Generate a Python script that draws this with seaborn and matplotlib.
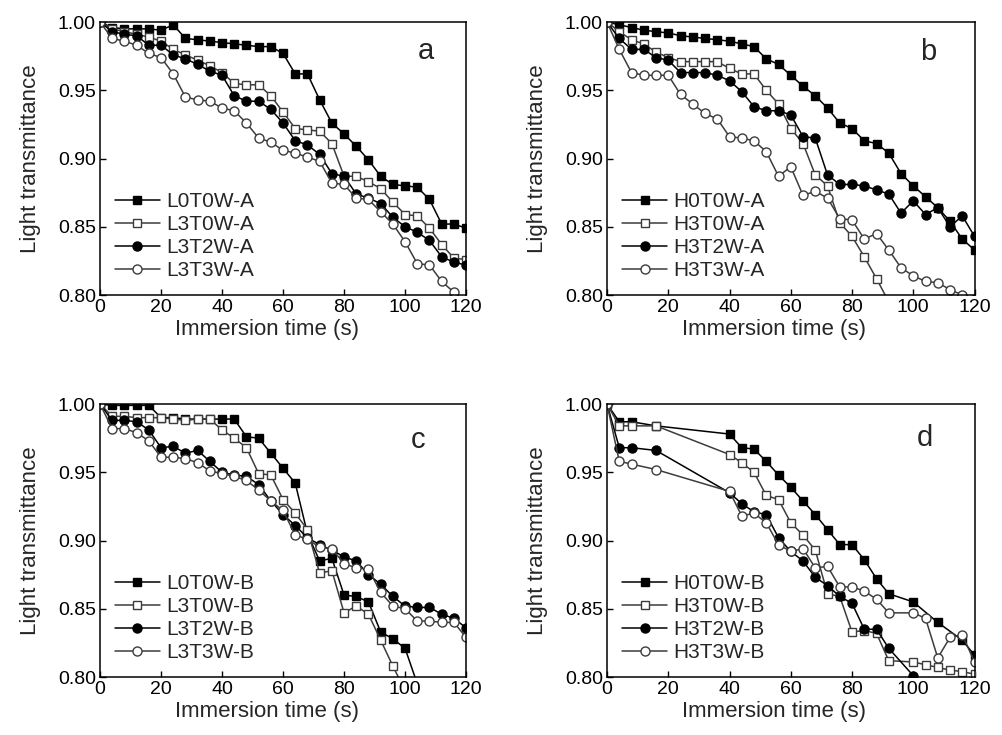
import matplotlib
matplotlib.use("Agg")
import matplotlib.pyplot as plt
import seaborn as sns
import pandas as pd

# ---------------- data ----------------
t_full = [0, 4, 8, 12, 16, 20, 24, 28, 32, 36, 40, 44, 48, 52, 56, 60,
          64, 68, 72, 76, 80, 84, 88, 92, 96, 100, 104, 108, 112, 116, 120]

# panel a
a_L0T0W = [1.000, .996, .995, .995, .995, .994, .998, .988, .987, .986, .985, .984, .983, .982, .982, .977,
           .962, .962, .943, .926, .918, .909, .899, .887, .881, .880, .879, .870, .852, .852, .849]
a_L3T0W = [1.000, .995, .993, .991, .989, .986, .980, .976, .972, .968, .963, .955, .954, .954, .946, .934,
           .922, .921, .920, .911, .887, .887, .883, .878, .868, .859, .858, .849, .837, .827, .826]
a_L3T2W = [1.000, .993, .991, .990, .983, .983, .976, .973, .969, .964, .961, .946, .942, .942, .936, .926,
           .913, .910, .903, .889, .887, .874, .871, .867, .857, .850, .846, .840, .828, .824, .822]
a_L3T3W = [1.000, .988, .986, .983, .977, .974, .962, .945, .943, .942, .937, .935, .926, .915, .912, .906,
           .904, .901, .898, .882, .881, .871, .870, .861, .852, .839, .823, .822, .810, .802, .795]

# panel b
b_t_H3T0W = [0, 4, 8, 12, 16, 20, 24, 28, 32, 36, 40, 44, 48, 52, 56, 60, 64, 68, 72, 76, 80, 84, 88, 92]
b_H0T0W = [1.000, .998, .996, .994, .993, .992, .990, .989, .988, .987, .986, .984, .982, .973, .969, .961,
           .953, .946, .937, .926, .922, .913, .911, .904, .889, .880, .872, .864, .854, .841, .833]
b_H3T0W = [1.000, .993, .987, .984, .978, .974, .971, .971, .971, .971, .966, .962, .962, .950, .940, .922,
           .911, .888, .880, .853, .843, .828, .812, .795]
b_H3T2W = [1.000, .988, .980, .980, .974, .972, .963, .963, .963, .961, .957, .949, .938, .935, .935, .932,
           .916, .915, .888, .881, .881, .880, .877, .874, .860, .869, .859, .864, .850, .858, .843]
b_H3T3W = [1.000, .980, .963, .961, .961, .961, .947, .940, .933, .929, .916, .915, .913, .905, .887, .894,
           .873, .876, .871, .856, .855, .841, .845, .833, .820, .814, .810, .809, .804, .800, .797]

# panel c
c_t_L0T0W = [0, 4, 8, 12, 16, 20, 24, 28, 32, 36, 40, 44, 48, 52, 56, 60, 64, 68, 72, 76, 80, 84, 88, 92, 96, 100, 104]
c_t_L3T0W = [0, 4, 8, 12, 16, 20, 24, 28, 32, 36, 40, 44, 48, 52, 56, 60, 64, 68, 72, 76, 80, 84, 88, 92, 96, 100]
c_L0T0W = [1.000, .999, .999, .999, .999, .990, .990, .989, .989, .989, .989, .989, .976, .975, .964, .953,
           .942, .905, .885, .887, .860, .859, .855, .833, .828, .821, .795]
c_L3T0W = [1.000, .991, .991, .990, .990, .990, .989, .988, .989, .989, .981, .975, .968, .949, .948, .930,
           .920, .908, .876, .878, .847, .852, .846, .827, .808, .790]
c_L3T2W = [1.000, .988, .988, .987, .981, .968, .969, .964, .966, .958, .950, .948, .947, .941, .929, .919,
           .911, .902, .897, .893, .888, .885, .875, .868, .859, .852, .851, .851, .846, .843, .836]
c_L3T3W = [1.000, .982, .982, .979, .973, .961, .961, .960, .957, .951, .949, .947, .944, .937, .929, .922,
           .904, .901, .895, .894, .883, .880, .879, .862, .852, .850, .841, .841, .840, .840, .829]

# panel d
d_t_H0T0W = [0, 4, 8, 16, 40, 44, 48, 52, 56, 60, 64, 68, 72, 76, 80, 84, 88, 92, 100, 108, 116, 120]
d_H0T0W = [1.000, .987, .987, .984, .978, .968, .967, .958, .948, .939, .929, .919, .908, .897, .897, .886,
           .872, .861, .855, .840, .827, .816]
d_t_H3T0W = [0, 4, 8, 16, 40, 44, 48, 52, 56, 60, 64, 68, 72, 76, 80, 84, 88, 92, 100, 104, 108, 112, 116, 120]
d_H3T0W = [1.000, .984, .984, .984, .963, .957, .950, .933, .930, .913, .904, .893, .861, .859, .833, .834,
           .832, .812, .811, .809, .807, .805, .804, .802]
d_t_H3T2W = [0, 4, 8, 16, 40, 44, 48, 52, 56, 60, 64, 68, 72, 76, 80, 84, 88, 92, 100, 104]
d_H3T2W = [1.000, .968, .968, .966, .935, .927, .921, .919, .902, .892, .885, .873, .867, .859, .854, .835,
           .835, .821, .801, .793]
d_t_H3T3W = [0, 4, 8, 16, 40, 44, 48, 52, 56, 60, 64, 68, 72, 76, 80, 84, 88, 92, 100, 104, 108, 112, 116, 120]
d_H3T3W = [1.000, .958, .956, .952, .936, .918, .920, .913, .897, .892, .894, .880, .881, .866, .866, .863,
           .857, .847, .847, .843, .814, .829, .831, .811]

x_ticks = [0, 20, 40, 60, 80, 100, 120]
y_ticks = [0.80, 0.85, 0.90, 0.95, 1.00]

# ---------------- style ----------------
sns.set_theme(style="ticks")
plt.rcParams['font.family'] = ['Liberation Sans', 'DejaVu Sans']

fig = plt.figure(figsize=(10.03, 7.35), dpi=100)

panels = [
    ("a", [0.0997, 0.5986, 0.3650, 0.3714], (0.89, 0.895), [
        (t_full, a_L0T0W, "L0T0W-A", "s", True),
        (t_full, a_L3T0W, "L3T0W-A", "s", False),
        (t_full, a_L3T2W, "L3T2W-A", "o", True),
        (t_full, a_L3T3W, "L3T3W-A", "o", False)]),
    ("b", [0.6052, 0.5986, 0.3664, 0.3714], (0.874, 0.89), [
        (t_full, b_H0T0W, "H0T0W-A", "s", True),
        (b_t_H3T0W, b_H3T0W, "H3T0W-A", "s", False),
        (t_full, b_H3T2W, "H3T2W-A", "o", True),
        (t_full, b_H3T3W, "H3T3W-A", "o", False)]),
    ("c", [0.0997, 0.0789, 0.3650, 0.3714], (0.87, 0.87), [
        (c_t_L0T0W, c_L0T0W, "L0T0W-B", "s", True),
        (c_t_L3T0W, c_L3T0W, "L3T0W-B", "s", False),
        (t_full, c_L3T2W, "L3T2W-B", "o", True),
        (t_full, c_L3T3W, "L3T3W-B", "o", False)]),
    ("d", [0.6052, 0.0789, 0.3664, 0.3714], (0.866, 0.875), [
        (d_t_H0T0W, d_H0T0W, "H0T0W-B", "s", True),
        (d_t_H3T0W, d_H3T0W, "H3T0W-B", "s", False),
        (d_t_H3T2W, d_H3T2W, "H3T2W-B", "o", True),
        (d_t_H3T3W, d_H3T3W, "H3T3W-B", "o", False)]),
]

for letter, pos, lpos, series in panels:
    ax = fig.add_axes(pos)
    for t, v, label, marker, filled in series:
        df = pd.DataFrame({"t": t, "v": v})
        col = "black" if filled else "#3c3c3c"
        sns.lineplot(data=df, x="t", y="v", ax=ax, sort=False, estimator=None,
                     color=col, linewidth=1.1, marker=marker,
                     markersize=6 if marker == "s" else 6.5,
                     markerfacecolor="black" if filled else "white",
                     markeredgecolor=col, markeredgewidth=1.0,
                     label=label)
    ax.set_xlim(0, 120)
    ax.set_ylim(0.80, 1.00)
    ax.set_xticks(x_ticks)
    ax.set_yticks(y_ticks)
    ax.set_yticklabels([f"{y:.2f}" for y in y_ticks])
    ax.tick_params(direction="in", length=4, width=1, labelsize=14, colors="black",
                   top=False, right=False, pad=3)
    for sp in ax.spines.values():
        sp.set_visible(True)
        sp.set_linewidth(1.1)
        sp.set_color("black")
    ax.set_xlabel("Immersion time (s)", fontsize=16, labelpad=2)
    ax.xaxis.label.set_x(0.455)
    ax.set_ylabel("Light transmittance", fontsize=16, labelpad=12)
    ax.text(lpos[0], lpos[1], letter, transform=ax.transAxes, fontsize=21,
            ha="center", va="center")
    ax.legend(loc="lower left", bbox_to_anchor=(0.0, 0.0), frameon=False,
              fontsize=15, handlelength=2.2, handletextpad=0.3,
              labelspacing=0.2, borderaxespad=0.3)

fig.savefig("out.png", dpi=100)
